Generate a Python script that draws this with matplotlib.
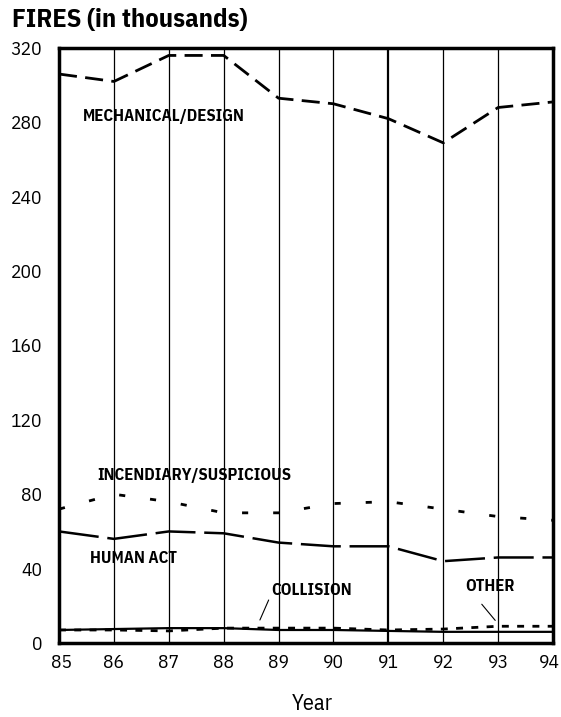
import numpy as np
import matplotlib.pyplot as plt
from matplotlib.transforms import ScaledTranslation

plt.rcParams['font.family'] = ['IBM Plex Sans Condensed', 'DejaVu Sans']

years = [85, 86, 87, 88, 89, 90, 91, 92, 93, 94]
mechanical = [306, 302, 316, 316, 293, 290, 282, 269, 288, 291]
incendiary = [72, 80, 76, 70, 70, 75, 76, 72, 68, 66]
human_act = [60, 56, 60, 59, 54, 52, 52, 44, 46, 46]
collision = [7, 7.5, 8, 8, 7, 7, 6.5, 6, 6, 6]
other = [7, 7, 6.5, 8, 8, 8, 7, 7.5, 9, 9]

fig = plt.figure(figsize=(5.61, 7.17), dpi=100)
ax = fig.add_axes([59 / 561, 74 / 717, 494 / 561, 595 / 717])

# vertical year lines, 91 a bit heavier
for yr in years[1:-1]:
    ax.axvline(yr, color='black', lw=1.6 if yr == 91 else 0.9, zorder=1)

ax.plot(years, mechanical, color='black', lw=2.0, ls=(0, (6.5, 3)), zorder=3)
ax.plot(years, incendiary, color='black', lw=2.0, ls=(0, (2.2, 9)), zorder=3)
ax.plot(years, human_act, color='black', lw=1.8, ls=(0, (16, 3.5)), zorder=3)
ax.plot(years, collision, color='black', lw=1.6, zorder=3)
ax.plot(years, other, color='black', lw=2.0, ls=(0, (2.5, 3)), zorder=3)

ax.set_xlim(85, 94)
ax.set_ylim(0, 320)
ax.set_xticks(years)
ax.set_yticks(np.arange(0, 321, 40))
ax.tick_params(length=0, labelsize=14)
ax.tick_params(axis='y', pad=12)
ax.tick_params(axis='x', pad=8)
for s in ax.spines.values():
    s.set_linewidth(2.5)
xl = ax.get_xticklabels()
xl[0].set_transform(xl[0].get_transform() + ScaledTranslation(2 / 100, 0, fig.dpi_scale_trans))
xl[-1].set_transform(xl[-1].get_transform() + ScaledTranslation(-4 / 100, 0, fig.dpi_scale_trans))

lab = dict(fontsize=12, fontweight='bold', ha='left', va='center')
ax.text(85.43, 283, 'MECHANICAL/DESIGN', **lab)
ax.text(85.69, 90, 'INCENDIARY/SUSPICIOUS', **lab)
ax.text(85.56, 45.5, 'HUMAN ACT', **lab)
ax.text(88.86, 28, 'COLLISION', **lab)
ax.text(92.4, 30.5, 'OTHER', **lab)
ax.annotate('', xy=(88.64, 11), xytext=(88.84, 24.5),
            arrowprops=dict(arrowstyle='-', lw=0.8, color='black'))
ax.annotate('', xy=(92.98, 11), xytext=(92.67, 22),
            arrowprops=dict(arrowstyle='-', lw=0.8, color='black'))

fig.text(12 / 561, 1 - 20 / 717, 'FIRES (in thousands)', fontsize=19,
         fontweight='bold', ha='left', va='center')
fig.text(312 / 561, 1 - 704 / 717, 'Year', fontsize=16, ha='center', va='center')

fig.savefig('out.png', dpi=100)
